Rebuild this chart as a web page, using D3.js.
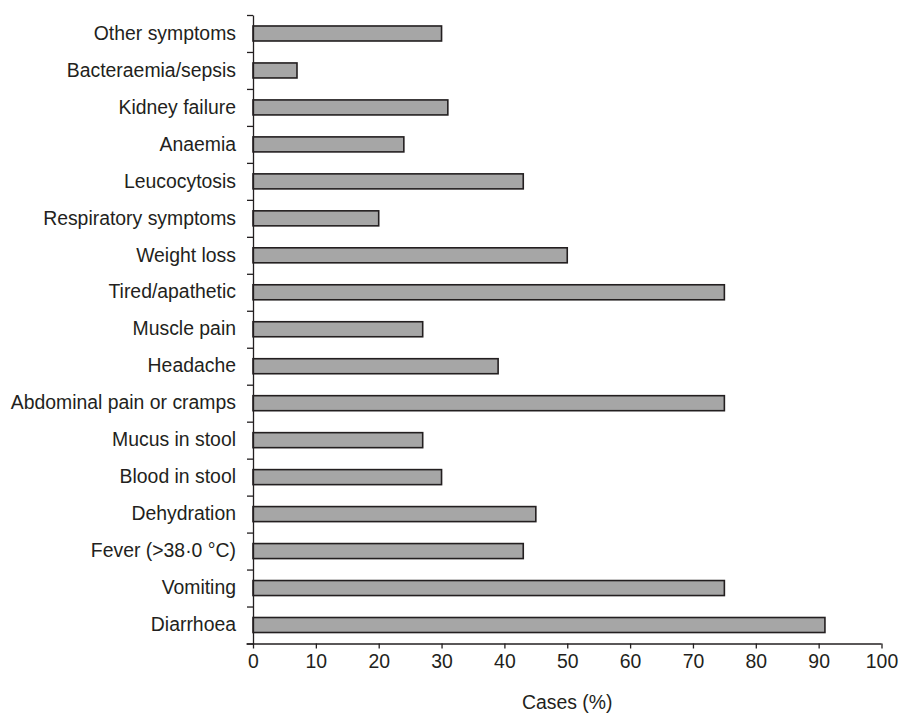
<!DOCTYPE html>
<html>
<head>
<meta charset="utf-8">
<script src="https://cdn.jsdelivr.net/npm/d3@7"></script>
<style>
  html, body { margin: 0; padding: 0; background: #fff; }
  svg { display: block; }
  text { font-family: "Liberation Sans", Arial, Helvetica, sans-serif; fill: #231f20; }
</style>
</head>
<body>
<svg id="chart" width="899" height="714"></svg>
<script>
// Categories from top to bottom
const categories = [
  "Other symptoms", "Bacteraemia/sepsis", "Kidney failure", "Anaemia",
  "Leucocytosis", "Respiratory symptoms", "Weight loss", "Tired/apathetic",
  "Muscle pain", "Headache", "Abdominal pain or cramps", "Mucus in stool",
  "Blood in stool", "Dehydration", "Fever (>38\u00B70 \u00B0C)", "Vomiting", "Diarrhoea"
];
const values = [30, 7, 31, 24, 43, 20, 50, 75, 27, 39, 75, 27, 30, 45, 43, 75, 91];
const xTicks = [0, 10, 20, 30, 40, 50, 60, 70, 80, 90, 100];
const xLabel = "Cases (%)";

(function () {
const svg = d3.select("#chart");
const mLeft = 253, mRight = 881.5, mTop = 15, mBottom = 643.5;
const ink = "#231f20";
const fs = 19.4;

const x = d3.scaleLinear().domain([0, 100]).range([mLeft, mRight]);
const y = d3.scaleBand().domain(categories).range([mTop, mBottom])
  .paddingInner(0.594).paddingOuter(0.297);
const yEdges = d3.scaleLinear().domain([0, categories.length]).range([mTop, mBottom]);

// Bars
svg.append("g").selectAll("rect").data(values).join("rect")
  .attr("x", x(0))
  .attr("y", (d, i) => y(categories[i]))
  .attr("width", d => x(d) - x(0))
  .attr("height", y.bandwidth())
  .attr("fill", "#a6a6a6")
  .attr("stroke", ink)
  .attr("stroke-width", 1.6);

// Y axis: line and boundary ticks
const yTickAxis = svg.append("g").attr("transform", `translate(${mLeft},0)`)
  .call(d3.axisLeft(yEdges).tickValues(d3.range(0, categories.length + 1))
    .tickSize(6).tickSizeOuter(0).tickFormat(""));
yTickAxis.selectAll("path, line").attr("stroke", ink).attr("stroke-width", 1.3);

// Y axis labels
const yLab = svg.append("g").attr("transform", `translate(${mLeft},0)`)
  .call(d3.axisLeft(y).tickSize(0).tickPadding(17));
yLab.select(".domain").remove();
yLab.selectAll("text").attr("font-size", fs).attr("font-family", null).attr("fill", ink);

// X axis
const xAxis = svg.append("g").attr("transform", `translate(0,${mBottom})`)
  .call(d3.axisBottom(x).tickValues(xTicks).tickSize(5).tickSizeOuter(0).tickPadding(6));
xAxis.selectAll("path, line").attr("stroke", ink).attr("stroke-width", 1.3);
xAxis.select(".domain").attr("d", `M${mLeft - 6.5},0.5H${mRight}`);
xAxis.selectAll("text").attr("font-size", fs).attr("font-family", null).attr("fill", ink);

// X label
svg.append("text")
  .attr("x", (mLeft + mRight) / 2)
  .attr("y", 709)
  .attr("text-anchor", "middle")
  .attr("font-size", fs)
  .text(xLabel);
})();
</script>
</body>
</html>
